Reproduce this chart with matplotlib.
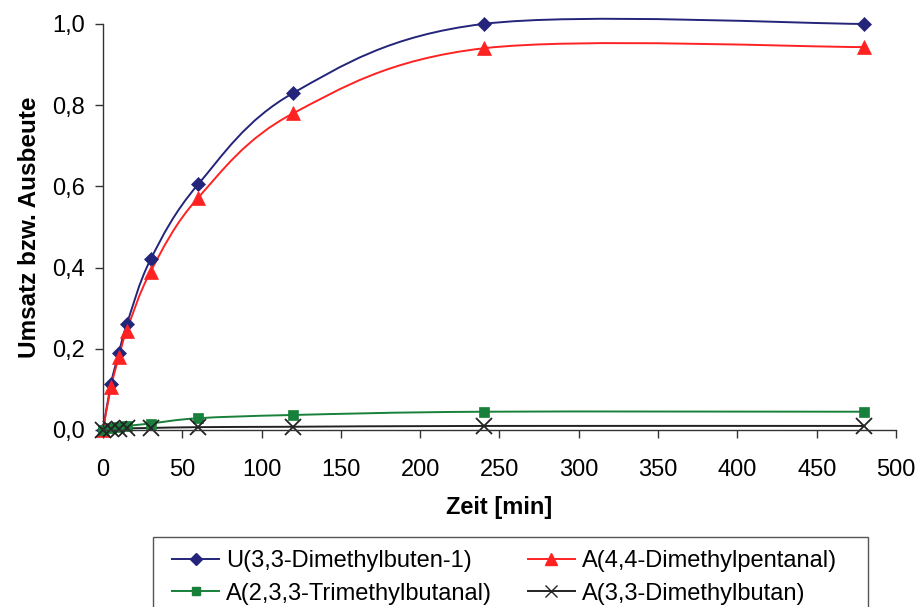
import matplotlib
matplotlib.use('Agg')
import matplotlib.pyplot as plt
import numpy as np
from matplotlib.path import Path
from matplotlib.patches import PathPatch, Rectangle
from matplotlib.lines import Line2D
from matplotlib.ticker import FuncFormatter, MultipleLocator

plt.rcParams['font.family'] = ['Liberation Sans', 'DejaVu Sans']

# ── data ──────────────────────────────────────────────────────────────────
zeit = [0, 5, 10, 15, 30, 60, 120, 240, 480]
u_dmb = [0.0, 0.113, 0.19, 0.26, 0.42, 0.605, 0.83, 1.0, 1.0]
a_dmp = [0.0, 0.105, 0.18, 0.245, 0.39, 0.572, 0.78, 0.94, 0.943]
a_tmb = [0.0, 0.005, 0.008, 0.01, 0.016, 0.029, 0.037, 0.045, 0.045]
a_dmbutan = [0.0, 0.002, 0.003, 0.004, 0.005, 0.007, 0.008, 0.01, 0.01]

series = [
    (u_dmb, 'U(3,3-Dimethylbuten-1)', '#24247a', 'D', 7),
    (a_dmp, 'A(4,4-Dimethylpentanal)', '#ff2222', '^', 10.5),
    (a_tmb, 'A(2,3,3-Trimethylbutanal)', '#17803a', 's', 7.5),
    (a_dmbutan, 'A(3,3-Dimethylbutan)', '#222222', 'x', 11),
]


def smooth_path(x, y):
    # Excel-style smoothed line: cubic Bezier segments (Catmull-Rom, tension 1/6)
    x = np.asarray(x, float)
    y = np.asarray(y, float)
    n = len(x)
    verts = [(x[0], y[0])]
    codes = [Path.MOVETO]
    for i in range(n - 1):
        x0, y0 = (x[i - 1], y[i - 1]) if i > 0 else (x[i], y[i])
        x3, y3 = (x[i + 2], y[i + 2]) if i + 2 < n else (x[i + 1], y[i + 1])
        c1 = (x[i] + (x[i + 1] - x0) / 6, y[i] + (y[i + 1] - y0) / 6)
        c2 = (x[i + 1] - (x3 - x[i]) / 6, y[i + 1] - (y3 - y[i]) / 6)
        verts += [c1, c2, (x[i + 1], y[i + 1])]
        codes += [Path.CURVE4] * 3
    return Path(verts, codes)


fig = plt.figure(figsize=(9.17, 6.07), dpi=100, facecolor='white')
ax = fig.add_axes([0.1123, 0.2916, 0.8648, 0.669])

handles = []
for vals, label, color, marker, ms in series:
    ax.add_patch(PathPatch(smooth_path(zeit, vals), facecolor='none',
                           edgecolor=color, linewidth=1.4, clip_on=False))
    ax.plot(zeit, vals, linestyle='none', marker=marker, markersize=ms,
            color=color, markeredgecolor=color,
            markeredgewidth=1.3 if marker == 'x' else 0.5, clip_on=False)
    handles.append(Line2D([0], [0], color=color, linewidth=1.4, marker=marker,
                          markersize=ms * 0.85, markeredgecolor=color,
                          label=label))

ax.set_xlim(0, 500)
ax.set_ylim(0, 1.0)
ax.xaxis.set_major_locator(MultipleLocator(50))
ax.yaxis.set_major_locator(MultipleLocator(0.2))
ax.yaxis.set_major_formatter(FuncFormatter(lambda v, p: f'{v:.1f}'.replace('.', ',')))

for s in ['top', 'right']:
    ax.spines[s].set_visible(False)
for s in ['left', 'bottom']:
    ax.spines[s].set_color('#333333')
    ax.spines[s].set_linewidth(1.0)
ax.tick_params(direction='out', length=6, width=1.0, colors='#333333',
               labelsize=17, labelcolor='black')
ax.tick_params(axis='x', pad=15)
ax.tick_params(axis='y', pad=7)

ax.set_xlabel('Zeit [min]', fontsize=17, fontweight='bold', labelpad=11)
ax.set_ylabel('Umsatz bzw. Ausbeute', fontsize=17.5, fontweight='bold',
              labelpad=8)

# legend frame (runs off the bottom of the figure like the original)
fig.add_artist(Rectangle((153 / 917, -0.1), (868 - 153) / 917,
                         0.1 + 1 - 537 / 607, transform=fig.transFigure,
                         fill=False, edgecolor='#555555', linewidth=1.0))

# row-wise order like the original legend (matplotlib fills column-wise)
order = [0, 2, 1, 3]
fig.legend(handles=[handles[i] for i in order], ncol=2, loc='upper left',
           bbox_to_anchor=(172 / 917, 1 - 550 / 607), fontsize=17,
           frameon=False, handlelength=2.0, handletextpad=0.3,
           columnspacing=1.5, borderpad=0, labelspacing=0.45,
           borderaxespad=0)

fig.savefig('out.png', dpi=100, facecolor='white')
